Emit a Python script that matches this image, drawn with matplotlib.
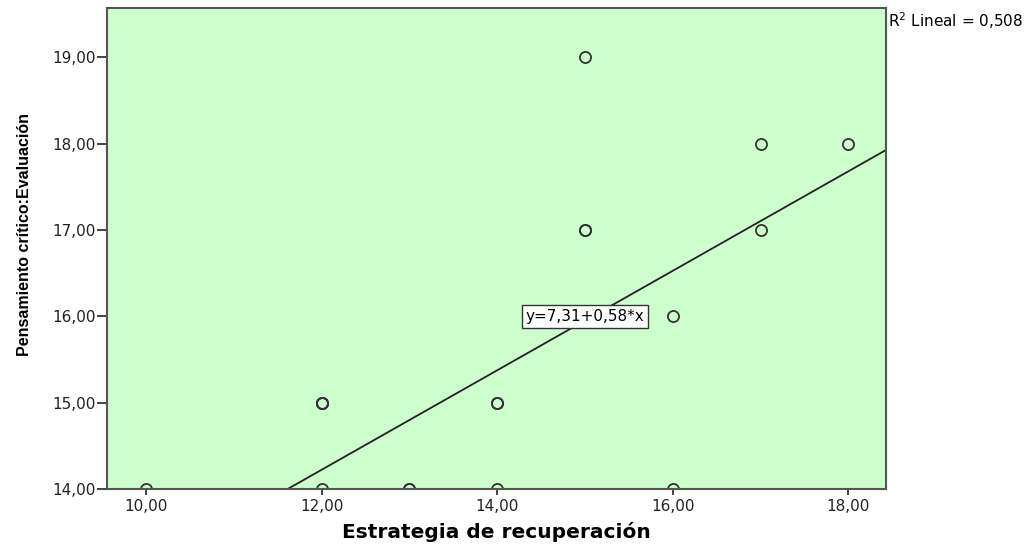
import os
import matplotlib
matplotlib.use('Agg')
import matplotlib.pyplot as plt
from matplotlib.font_manager import FontProperties
import numpy as np

# data points (duplicates listed twice, they show up bolder)
estrategia = [10, 12, 12, 12, 12, 13, 13, 14, 14, 14, 15, 15, 15, 16, 16, 17, 17, 18]
evaluacion = [14, 14, 15, 15, 15, 14, 14, 14, 15, 15, 19, 17, 17, 16, 14, 18, 17, 18]

# fit line (label shows the rounded values)
a0 = 7.31
a1 = 0.576
fit_label = 'y=7,31+0,58*x'
r2_text = '0,508'

# bundled DejaVu Sans (regular width)
dv = os.path.join(matplotlib.get_data_path(), 'fonts', 'ttf', 'DejaVuSans.ttf')
fp = FontProperties(fname=dv, size=11)

plt.rcParams['font.family'] = ['DejaVu Sans']

fig = plt.figure(figsize=(10.31, 5.45), dpi=100)
ax = fig.add_axes([0.1038, 0.1028, 0.7556, 0.8826])
ax.set_facecolor('#ccffcc')

ax.plot(estrategia, evaluacion, 'o', ms=8, mfc='none', mec='#333333', mew=1.3, ls='none')

xx = np.linspace(9.5, 18.5, 50)
ax.plot(xx, a0 + a1 * xx, color='#222222', lw=1.3)

ax.text(15, 16, fit_label, ha='center', va='center', fontproperties=fp,
        bbox=dict(boxstyle='square,pad=0.25', fc='white', ec='#333333', lw=1))

ax.set_xlim(9.556, 18.43)
ax.set_ylim(14, 19.57)

xt = [10, 12, 14, 16, 18]
yt = [14, 15, 16, 17, 18, 19]
ax.set_xticks(xt)
ax.set_xticklabels(['%d,00' % v for v in xt], fontproperties=fp)
ax.set_yticks(yt)
ax.set_yticklabels(['%d,00' % v for v in yt], fontproperties=fp)
ax.tick_params(direction='out', width=1.2, colors='#222222')
ax.tick_params(axis='y', length=7, pad=1)
ax.tick_params(axis='x', length=4, pad=3)

for s in ax.spines.values():
    s.set_color('#555555')
    s.set_linewidth(1.5)

ax.set_xlabel('Estrategia de recuperación', fontsize=14.5, fontweight='bold', labelpad=6)
ax.set_ylabel('Pensamiento crítico:Evaluación', fontsize=11.5, fontweight='bold',
              family=['Liberation Sans', 'DejaVu Sans'])
ax.yaxis.set_label_coords(-0.096, 0.529)

fig.text(0.861, 0.963, 'R$^2$ Lineal = ' + r2_text, fontproperties=fp, ha='left', va='center')

fig.savefig('out.png', dpi=100)
